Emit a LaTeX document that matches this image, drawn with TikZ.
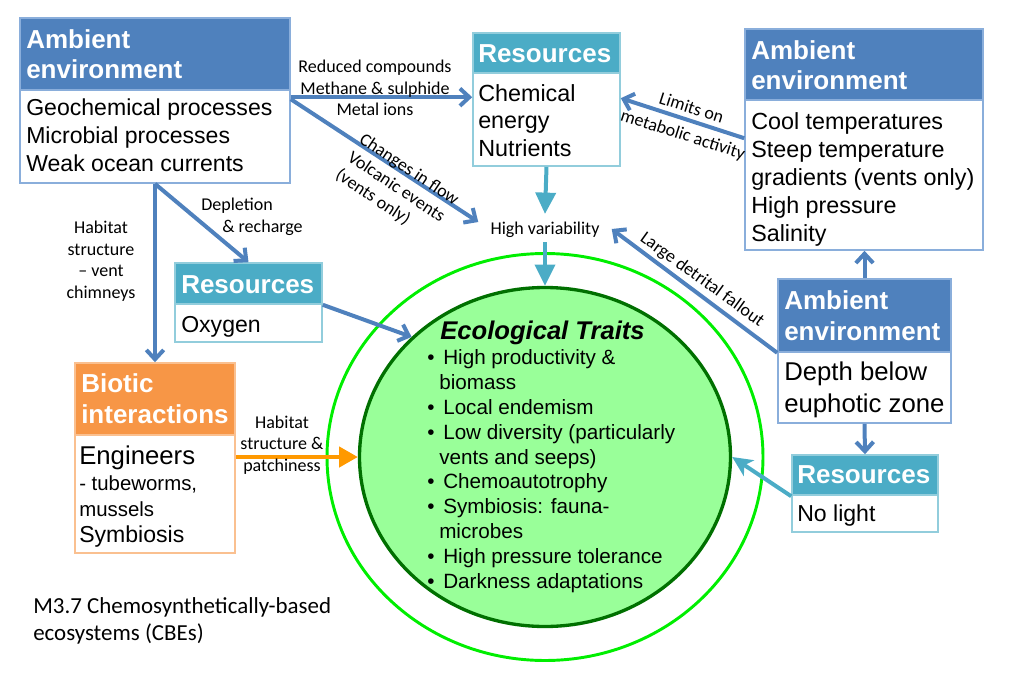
\documentclass[tikz,border=0pt]{standalone}
\usepackage{fontspec}
\setmainfont{Liberation Sans}
\newfontfamily\lblfont{Carlito}
\usetikzlibrary{arrows.meta,calc,fit,shapes.geometric}

\definecolor{ambfill}{HTML}{4F81BD}
\definecolor{ambline}{HTML}{8AAEDB}
\definecolor{resfill}{HTML}{4BACC6}
\definecolor{resline}{HTML}{92CDDC}
\definecolor{biofill}{HTML}{F79646}
\definecolor{bioline}{HTML}{FAC090}
\definecolor{arrblue}{HTML}{4F81BD}
\definecolor{arrteal}{HTML}{4BACC6}
\definecolor{arrorange}{HTML}{FF9900}
\definecolor{traitfill}{HTML}{99FF99}
\definecolor{traitline}{HTML}{007000}
\definecolor{ringline}{HTML}{00EE00}

\newcommand\hdrsize{\fontsize{19.5}{22.5}\selectfont}
\newcommand\bl{\makebox[12pt][l]{\textbullet}}
\newcommand\cn{\hspace*{9pt}}

\begin{document}
\begin{tikzpicture}[x=0.75pt,y=-0.75pt,
  hbox/.style={inner sep=0pt, line width=1.2pt},
  bbox/.style={inner sep=0pt, line width=1.2pt, fill=white},
  htxt/.style={anchor=base west, inner sep=0pt, align=left, text=white, font=\bfseries\hdrsize},
  btxt/.style={anchor=base west, inner sep=0pt, align=left, font=\fontsize{17.3}{21}\selectfont},
  elbl/.style={inner sep=0pt, align=center, font=\lblfont\fontsize{13.5}{16.1}\selectfont},
  barr/.style={draw=arrblue, line width=3pt, -{Straight Barb[length=7pt,width=13pt]}},
  tarr/.style={draw=arrteal, line width=3pt, -{Triangle[length=16pt,width=15pt]}},
  sarr/.style={draw=arrteal, line width=3pt, -{Stealth[length=15pt,width=14pt,inset=4pt]}},
  oarr/.style={draw=arrorange, line width=3pt, -{Triangle[length=14pt,width=15pt]}}
]
\useasboundingbox (0,0) rectangle (1011,700);

% ecological traits: outer ring and inner disc
\node[ellipse, draw=ringline, line width=2.2pt, minimum width=327pt, minimum height=305.25pt, inner sep=0pt] (ring) at (545,457) {};
\node[ellipse, draw=traitline, fill=traitfill, line width=2.5pt, minimum width=278.25pt, minimum height=254.25pt, inner sep=0pt] (trait) at (545,457) {};

% boxes: coloured header over white body
\node[hbox, fill=ambfill, draw=ambline, fit={(20,18)(290,90)}] (tlH) {};
\node[bbox, draw=ambline, fit={(20,90)(290,183)}] (tlB) {};
\node[hbox, fill=resfill, draw=resline, fit={(473,33)(620,73)}] (rsH) {};
\node[bbox, draw=resline, fit={(473,73)(620,166)}] (rsB) {};
\node[hbox, fill=ambfill, draw=ambline, fit={(745,29)(983,100)}] (trH) {};
\node[bbox, draw=ambline, fit={(745,100)(983,250)}] (trB) {};
\node[hbox, fill=resfill, draw=resline, fit={(175,263)(322,304)}] (oxH) {};
\node[bbox, draw=resline, fit={(175,304)(322,342)}] (oxB) {};
\node[hbox, fill=biofill, draw=bioline, fit={(75,363)(235,435)}] (biH) {};
\node[bbox, draw=bioline, fit={(75,435)(235,553)}] (biB) {};
\node[hbox, fill=ambfill, draw=ambline, fit={(778,279)(951,352)}] (dpH) {};
\node[bbox, draw=ambline, fit={(778,352)(951,423)}] (dpB) {};
\node[hbox, fill=resfill, draw=resline, fit={(792,455)(938,495)}] (nlH) {};
\node[bbox, draw=resline, fit={(792,495)(938,532)}] (nlB) {};

% box texts (each anchored at the baseline of its last line)
\node[htxt] (tlHt) at (26,78) {Ambient\\environment};
\node[btxt] (tlBt) at (26,171) {Geochemical processes\\Microbial processes\\Weak ocean currents};
\node[htxt] (rsHt) at (478,62) {Resources};
\node[btxt, font=\fontsize{17.5}{20.6}\selectfont] (rsBt) at (478,156) {Chemical\\energy\\Nutrients};
\node[htxt] (trHt) at (751,89) {Ambient\\environment};
\node[btxt, font=\fontsize{17.5}{21}\selectfont] (trBt) at (751,241) {Cool temperatures\\Steep temperature\\gradients (vents only)\\High pressure\\Salinity};
\node[htxt] (oxHt) at (181,293) {Resources};
\node[btxt] (oxBt) at (181,332) {Oxygen};
\node[htxt, font=\bfseries\fontsize{19.5}{23.25}\selectfont] (biHt) at (81,423) {Biotic\\interactions};
\node[btxt, font=\fontsize{15.3}{19.5}\selectfont] (biBt) at (79,542) {{\fontsize{19.3}{19.5}\selectfont Engineers}\\- tubeworms,\\mussels\\{\fontsize{17.3}{19.5}\selectfont Symbiosis}};
\node[htxt, font=\bfseries\fontsize{19.5}{23.25}\selectfont] (dpHt) at (784,340) {Ambient\\environment};
\node[btxt, font=\fontsize{19.3}{24}\selectfont] (dpBt) at (784,412) {Depth below\\euphotic zone};
\node[htxt] (nlHt) at (797,483) {Resources};
\node[btxt] (nlBt) at (797,521) {No light};

% traits text
\node[anchor=base, inner sep=0pt, font=\bfseries\itshape\fontsize{19.2}{22}\selectfont] (traitT) at (542.5,339) {Ecological Traits};
\node[anchor=base west, inner sep=0pt, align=left, font=\fontsize{15.5}{18.6}\selectfont] (traitL) at (427,588)
  {\bl High productivity \&\\\cn biomass\\\bl Local endemism\\\bl Low diversity (particularly\\\cn vents and seeps)\\\bl Chemoautotrophy\\\bl Symbiosis: fauna-\\\cn microbes\\\bl High pressure tolerance\\\bl Darkness adaptations};

% variability hub
\node[elbl] (hv) at (545,230) {High variability};

% connectors
\draw[barr] ($(tlB.north east)+(0,8)$) -- ($(rsB.north west)+(0,25)$);
\draw[barr] ($(tlB.north east)+(0,10)$) -- ($(hv.west)+(-12,-8)$);
\draw[tarr] (rsB.south) -- ($(hv.north)+(0,-8)$);
\draw[tarr] ($(hv.south)+(0,4)$) -- (trait.north);
\draw[barr] ($(trB.north west)+(0,39)$) -- ($(rsB.north east)+(0,26)$);
\draw[barr] (dpH.south west) -- ($(hv.east)+(12,-1)$);
\draw[barr] (dpH.north) -- (dpH.north |- trB.south);
\draw[barr] (dpB.south) -- (nlH.north);
\draw[sarr] ($(nlB.north west)+(0,2)$) -- (trait.east);
\draw[barr] (biH.north |- tlB.south) -- (biH.north);
\draw[barr] (biH.north |- tlB.south) -- (oxH.north);
\draw[barr] (oxH.south east) -- (trait.138);
\draw[oarr] (biB.east |- trait.west) -- (trait.west);

% connector labels
\node[elbl] (l1) at (375,88) {Reduced compounds\\Methane \& sulphide\\Metal ions};
\node[elbl, align=left, rotate=-33.7] (l2) at (397,188) {Changes in flow\\Volcanic events\\(vents only)};
\node[elbl, font=\lblfont\fontsize{13.5}{21}\selectfont, rotate=-17.7] (l3) at (687,122) {Limits on\\metabolic activity};
\node[elbl, rotate=-35.8] (l4) at (702,280) {Large detrital fallout};
\node[elbl] (l5) at (282,445) {Habitat\\structure \&\\patchiness};
\node[elbl] (l6) at (101,261) {Habitat\\structure\\– vent\\chimneys};
\node[elbl, align=left] (l7) at (252,217) {Depletion\\\hspace*{15.75pt}\& recharge};

% caption
\node[anchor=base west, inner sep=0pt, align=left, font=\lblfont\fontsize{17.2}{20.25}\selectfont] (cap) at (33,640) {M3.7 Chemosynthetically-based\\ecosystems (CBEs)};
\end{tikzpicture}
\end{document}
